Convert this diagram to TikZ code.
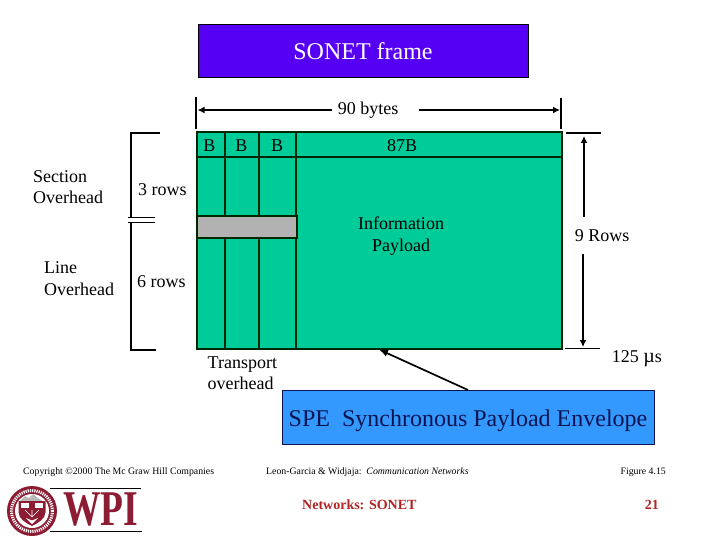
\documentclass[tikz,border=0pt]{standalone}
\usepackage{fontspec}
\setmainfont{Liberation Serif}
\usetikzlibrary{arrows.meta}
\definecolor{grn}{HTML}{00CC99}
\definecolor{prp}{HTML}{5500F5}
\definecolor{blu}{HTML}{3399FF}
\definecolor{gry}{HTML}{B2B2B2}
\definecolor{dkred}{HTML}{B22222}
\definecolor{wpired}{HTML}{8C1C32}
\definecolor{navy}{HTML}{0A1450}
\tikzset{
  lbl/.style={inner sep=0pt,align=center,font=\fontsize{18}{21.3}\selectfont,text=black},
  foot/.style={inner sep=0pt,font=\fontsize{9.8}{11}\selectfont,text=black},
  redlbl/.style={inner sep=0pt,font=\fontsize{14}{16}\selectfont\bfseries,text=dkred},
  grid/.style={line width=2pt,draw=black!85!green},
  gridthin/.style={line width=1.6pt,draw=black!85!green},
  brk/.style={line width=1.8pt,draw=black},
  arr/.style={line width=1.7pt,draw=black,-{Latex[length=7pt,width=7pt]}},
}
\begin{document}
\begin{tikzpicture}[x=1pt,y=-1pt]
\useasboundingbox (0,0) rectangle (720,540);
% title
\node[draw=black,fill=prp,line width=1pt,minimum width=330pt,minimum height=53pt,inner sep=0pt,text=white,font=\fontsize{24}{28}\selectfont] (title) at (363,51.5) {\raisebox{-8.5pt}[0pt][0pt]{SONET frame}};
% frame
\node[draw=none,fill=grn,minimum width=365pt,minimum height=217pt,inner sep=0pt] (frame) at (379.5,240.5) {};
\coordinate (f1t) at (225,132); \coordinate (f1b) at (225,349);
\coordinate (f2t) at (259,132); \coordinate (f2b) at (259,349);
\coordinate (f3t) at (296,132); \coordinate (f3b) at (296,349);
\coordinate (hl) at (197,157); \coordinate (hr) at (562,157);
\draw[gridthin] (f1t)--(f1b) (f2t)--(f2b) (f3t)--(f3b);
\draw[gridthin] (hl)--(hr);
\node[draw=none,fill=gry,minimum width=100pt,minimum height=22pt,inner sep=0pt] (grey) at (247,227) {};
\draw[gridthin] (grey.north west) rectangle (grey.south east);
\draw[grid] (frame.north west) rectangle (frame.south east);
% byte labels
\node[lbl] (b1) at (209.5,146) {B};
\node[lbl] (b2) at (241.5,146) {B};
\node[lbl] (b3) at (277,146) {B};
\node[lbl] (b87) at (402,145.5) {87B};
\node[lbl] (info) at (401,236) {Information\\Payload};
% 90 bytes
\node[lbl] (b90) at (368,110) {90 bytes};
\coordinate (lt) at (196,97); \coordinate (lb) at (196,129);
\coordinate (rt) at (561,98); \coordinate (rb) at (561,129);
\coordinate (la) at (197.5,110); \coordinate (ra) at (560,110);
\draw[brk] (lt)--(lb) (rt)--(rb);
\draw[arr] (332,110) -- (la);
\draw[arr] (419,110) -- (ra);
% left brackets
\coordinate (a0) at (131,133); \coordinate (a1) at (160,133);
\coordinate (a2) at (131,217); \coordinate (a3) at (131,222);
\coordinate (a4) at (131,350); \coordinate (a5) at (156,350);
\draw[brk] (a1)--(a0)--(a2);
\draw[brk] (128,217.5)--(155,217.5);
\draw[brk] (128,222.5)--(155,222.5);
\draw[brk] (a5)--(a4)--(a3);
\node[lbl,anchor=west] (r3) at (138,190) {3 rows};
\node[lbl,anchor=west] (r6) at (137,282) {6 rows};
\node[lbl,align=left,anchor=west] (sec) at (33,187) {Section\\Overhead};
\node[lbl,align=left,anchor=west] (line) at (44,278.5) {Line\\Overhead};
% right
\coordinate (t0) at (566,133); \coordinate (t1) at (601,133);
\coordinate (t2) at (565,348.5); \coordinate (t3) at (600,348.5);
\draw[brk] (t0)--(t1) (t2)--(t3);
\node[lbl] (nine) at (602,236) {9 Rows};
\draw[arr] (584,217) -- (584,136);
\draw[arr] (583,254) -- (583,347);
\node[lbl,anchor=east] (mus) at (662,358.5) {125 {\fontsize{20}{20}\selectfont µ}s};
% transport
\node[lbl,align=left,anchor=west] (tr) at (207.5,373.5) {Transport\\overhead};
% SPE
\node[draw=navy,fill=blu,line width=1pt,minimum width=372pt,minimum height=54pt,inner sep=0pt,text=navy,font=\fontsize{24}{28}\selectfont] (spe) at (468,417.5) {\raisebox{-8.5pt}[0pt][0pt]{SPE\ \ Synchronous Payload Envelope}};
\draw[line width=1.7pt,draw=black,-{Latex[length=9pt,width=7pt]}] (spe.north) -- (379,349.5);
% footer
\node[foot,anchor=west] (cp) at (23,472) {Copyright \textcopyright2000 The Mc Graw Hill Companies};
\node[foot,anchor=west] (lg) at (266,472) {Leon-Garcia \& Widjaja:\ \ \textit{Communication Networks}};
\node[foot,anchor=east] (fg) at (666,472) {Figure 4.15};
\node[redlbl,anchor=west] (nw) at (302,504.5) {Networks: SONET};
\node[redlbl,anchor=east] (pg) at (659,504.5) {21};
% WPI logo
\node[inner sep=0pt,text=wpired,xscale=.75,font=\fontsize{50}{50}\selectfont\bfseries] (wpi) at (100.5,510) {WPI};
\draw[line width=1pt,black] (50,488) -- (141,488);
\draw[line width=1.4pt,black] (50,531.5) -- (142,531.5);
\fill[wpired] (32,511) circle (25pt);
\draw[white,line width=3pt,dash pattern=on 1.2pt off 1pt] (32,511) circle (20.5pt);
\fill[white] (32,511) circle (17pt);
\fill[gray!55] (19,502) -- (25,496) -- (29,498) -- (33,494) -- (38,498) -- (44,502) -- cycle;
\path[fill=wpired] (18.5,501) -- (45.5,501) -- (45.5,512) .. controls (45.5,519) and (38,523) .. (32,526) .. controls (26,523) and (18.5,519) .. (18.5,512) -- cycle;
\fill[white] (21,503) rectangle (29,508);
\fill[white] (35,503) rectangle (43,508);
\draw[white,line width=.6pt] (25,510) -- (32,517) -- (39,510) (32,510) -- (32,517);
\path[fill=white] (26,518) -- (32,524) -- (38,518) -- (32,520.5) -- cycle;
\end{tikzpicture}
\end{document}
